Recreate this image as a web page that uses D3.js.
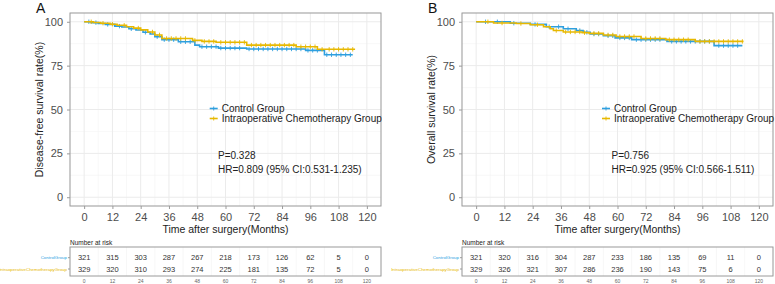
<!DOCTYPE html>
<html>
<head>
<meta charset="utf-8">
<script src="https://cdn.jsdelivr.net/npm/d3@7"></script>
<style>
  body { margin: 0; background: #fff; }
  svg { font-family: "Liberation Sans", Arial, sans-serif; display: block; }
</style>
</head>
<body>
<svg id="chart" width="775" height="284"></svg>
<script>
// ---- data ----
const groups = ["Control Group", "Intraoperative Chemotherapy Group"];
const tableLabels = ["ControlGroup", "IntraoperativeChemotherapyGroup"];
const xTicks = [0, 12, 24, 36, 48, 60, 72, 84, 96, 108, 120];
const yTicks = [0, 25, 50, 75, 100];

// panel A: disease-free survival
const dfsCtrlTime = [0, 3, 6, 9, 13, 16, 19, 22, 25, 28, 30, 33, 40, 47, 49, 57, 69, 94, 102];
const dfsCtrlSurv = [100, 99.5, 99, 98.5, 97.5, 97, 96, 95.3, 94, 93, 91.5, 89.8, 88.6, 86.7, 85.8, 85, 84.5, 83.7, 81.2];
const dfsCtrlEnd = 114;
const dfsCtrlCens = [2, 5, 10, 15, 20, 26, 31, 34, 36, 38, 41, 43, 45, 50, 52, 54, 56, 58, 60, 62, 64, 66, 70, 72, 74, 76, 78, 80, 82, 84, 86, 88, 90, 92, 95, 97, 99, 103, 105, 107, 109, 111, 113];
const dfsIcTime = [0, 4, 7, 11, 14, 18, 21, 24, 27, 30, 33, 46, 50, 56, 69, 90, 99];
const dfsIcSurv = [100, 99.6, 99.2, 98.6, 98, 97.2, 96.4, 95.4, 94.2, 92.5, 90.5, 89.4, 88.8, 88.3, 86.7, 85.8, 84.3];
const dfsIcEnd = 115;
const dfsIcCens = [3, 8, 12, 17, 23, 29, 32, 35, 37, 39, 41, 43, 47, 51, 53, 55, 58, 60, 62, 64, 66, 68, 71, 73, 75, 77, 79, 81, 83, 85, 87, 89, 92, 94, 96, 98, 101, 104, 106, 108, 110, 112, 114];
const dfsRiskCtrl = [321, 315, 303, 287, 267, 218, 173, 126, 62, 5, 0];
const dfsRiskIc = [329, 320, 310, 293, 274, 225, 181, 135, 72, 5, 0];

// panel B: overall survival
const osCtrlTime = [0, 14.5, 23, 29.8, 37, 42.5, 45.4, 48.4, 54, 59, 66, 81, 101];
const osCtrlSurv = [100, 99.2, 98.5, 97.2, 96, 95, 94, 93, 92, 90.8, 89.8, 88.8, 86.4];
const osCtrlEnd = 113;
const osCtrlCens = [4, 9, 16, 25, 31, 35, 39, 44, 47, 50, 52, 56, 58, 61, 63, 65, 68, 70, 72, 74, 76, 78, 83, 85, 87, 89, 91, 93, 95, 97, 99, 103, 105, 107, 109, 111];
const osIcTime = [0, 7.4, 17, 23, 28.6, 31.4, 32.8, 37, 45, 48, 54, 59.4, 70, 80.5, 93];
const osIcSurv = [100, 99.3, 99, 98.3, 97.2, 96, 95, 94.2, 93.8, 93.4, 92.5, 91.6, 90.5, 89.8, 88.8];
const osIcEnd = 113.5;
const osIcCens = [5, 11, 19, 26, 34, 38, 40, 42, 44, 46, 50, 52, 56, 58, 61, 63, 65, 67, 72, 74, 76, 78, 82, 84, 86, 88, 90, 95, 97, 99, 101, 103, 105, 107, 109, 111, 113];
const osRiskCtrl = [321, 320, 316, 304, 287, 233, 186, 135, 69, 11, 0];
const osRiskIc = [329, 326, 321, 307, 286, 236, 190, 143, 75, 6, 0];

const colors = ["#2E9FDF", "#E7B800"];

const svg = d3.select("#chart");

function stepValue(times, surv, t) {
  let v = surv[0];
  for (let i = 0; i < times.length; i++) {
    if (times[i] <= t) v = surv[i];
  }
  return v;
}

function drawPanel(p) {
  const x = d3.scaleLinear().domain([-6, 126]).range([p.left, p.left + 311]);
  const y = d3.scaleLinear().domain([-5, 105]).range([206, 13]);
  const g = svg.append("g");

  // grid
  const minorX = d3.range(-6, 127, 12);
  const minorY = [-5, 12.5, 37.5, 62.5, 87.5, 105];
  g.selectAll(".mx").data(minorX).join("line")
    .attr("x1", d => x(d)).attr("x2", d => x(d))
    .attr("y1", y(-5)).attr("y2", y(105))
    .attr("stroke", "#f4f4f4").attr("stroke-width", 0.6);
  g.selectAll(".my").data(minorY).join("line")
    .attr("x1", x(-6)).attr("x2", x(126))
    .attr("y1", d => y(d)).attr("y2", d => y(d))
    .attr("stroke", "#f4f4f4").attr("stroke-width", 0.6);
  g.selectAll(".gx").data(xTicks).join("line")
    .attr("x1", d => x(d)).attr("x2", d => x(d))
    .attr("y1", y(-5)).attr("y2", y(105))
    .attr("stroke", "#ebebeb").attr("stroke-width", 1);
  g.selectAll(".gy").data(yTicks).join("line")
    .attr("x1", x(-6)).attr("x2", x(126))
    .attr("y1", d => y(d)).attr("y2", d => y(d))
    .attr("stroke", "#ebebeb").attr("stroke-width", 1);

  // curves
  p.series.forEach((s, i) => {
    const pts = s.time.map((t, k) => [t, s.surv[k]]);
    pts.push([s.end, s.surv[s.surv.length - 1]]);
    const line = d3.line().x(d => x(d[0])).y(d => y(d[1])).curve(d3.curveStepAfter);
    g.append("path").attr("d", line(pts))
      .attr("fill", "none").attr("stroke", colors[i]).attr("stroke-width", 1.6);
    g.selectAll(null).data(s.cens).join("line")
      .attr("x1", d => x(d)).attr("x2", d => x(d))
      .attr("y1", d => y(stepValue(s.time, s.surv, d)) - 2.2)
      .attr("y2", d => y(stepValue(s.time, s.surv, d)) + 2.2)
      .attr("stroke", colors[i]).attr("stroke-width", 0.9);
  });

  // border
  g.append("rect").attr("x", x(-6)).attr("y", y(105))
    .attr("width", x(126) - x(-6)).attr("height", y(-5) - y(105))
    .attr("fill", "none").attr("stroke", "#9a9a9a").attr("stroke-width", 1);

  // axes
  const ax = g.append("g").attr("transform", `translate(0,${y(-5)})`)
    .call(d3.axisBottom(x).tickValues(xTicks).tickSize(3).tickPadding(4));
  const ay = g.append("g").attr("transform", `translate(${x(-6)},0)`)
    .call(d3.axisLeft(y).tickValues(yTicks).tickSize(3).tickPadding(4));
  [ax, ay].forEach(a => {
    a.select(".domain").remove();
    a.selectAll("line").attr("stroke", "#9a9a9a");
    a.selectAll("text").attr("fill", "#4d4d4d").style("font-size", "11px")
      .style("font-family", "'Liberation Sans', Arial, sans-serif");
  });

  g.append("text").attr("x", (x(-6) + x(126)) / 2).attr("y", 233)
    .attr("text-anchor", "middle").attr("font-size", 10.5).attr("fill", "#222")
    .text("Time after surgery(Months)");
  g.append("text")
    .attr("transform", `translate(${p.left - 27},${(y(-5) + y(105)) / 2}) rotate(-90)`)
    .attr("text-anchor", "middle").attr("font-size", 10.5).attr("fill", "#222")
    .text(p.ytitle);
  g.append("text").attr("x", p.left - 34).attr("y", 13)
    .attr("font-size", 14).attr("fill", "#111").text(p.letter);

  // legend
  groups.forEach((name, i) => {
    const ly = 112 + i * 10;
    g.append("line").attr("x1", p.legX - 12).attr("x2", p.legX - 4)
      .attr("y1", ly - 3.5).attr("y2", ly - 3.5)
      .attr("stroke", colors[i]).attr("stroke-width", 1.6);
    g.append("line").attr("x1", p.legX - 8).attr("x2", p.legX - 8)
      .attr("y1", ly - 5.5).attr("y2", ly - 1.5)
      .attr("stroke", colors[i]).attr("stroke-width", 0.9);
    g.append("text").attr("x", p.legX).attr("y", ly)
      .attr("font-size", 10).attr("fill", "#222").text(name);
  });

  // p / hr
  g.append("text").attr("x", p.pX).attr("y", 159)
    .attr("font-size", 10).attr("fill", "#222").text(p.pval);
  g.append("text").attr("x", p.pX).attr("y", 173)
    .attr("font-size", 10).attr("fill", "#222").text(p.hr);

  // risk table
  const ty = d3.scalePoint().domain([0, 1]).range([257.7, 269]);
  g.append("text").attr("x", x(-6)).attr("y", 245)
    .attr("font-size", 6.5).attr("fill", "#222").text("Number at risk");
  g.selectAll(".tgx").data(minorX).join("line")
    .attr("x1", d => x(d)).attr("x2", d => x(d))
    .attr("y1", 247).attr("y2", 276)
    .attr("stroke", "#f2f2f2").attr("stroke-width", 0.6);
  g.append("rect").attr("x", x(-6)).attr("y", 247)
    .attr("width", x(126) - x(-6)).attr("height", 29)
    .attr("fill", "none").attr("stroke", "#9a9a9a").attr("stroke-width", 1);
  p.risk.forEach((row, i) => {
    g.selectAll(null).data(row).join("text")
      .attr("x", (d, k) => x(xTicks[k])).attr("y", ty(i) + 2.6)
      .attr("text-anchor", "middle").attr("font-size", 7.5).attr("fill", "#333")
      .text(d => d);
    g.append("text").attr("x", x(-6) - 3).attr("y", ty(i) + 1.6)
      .attr("text-anchor", "end").attr("font-size", 4.4).attr("fill", colors[i])
      .text(tableLabels[i]);
    g.append("line").attr("x1", x(-6) - 2).attr("x2", x(-6))
      .attr("y1", ty(i)).attr("y2", ty(i)).attr("stroke", "#9a9a9a");
  });
  g.selectAll(".tt").data(xTicks).join("text")
    .attr("x", d => x(d)).attr("y", 282.5)
    .attr("text-anchor", "middle").attr("font-size", 5).attr("fill", "#666")
    .text(d => d);
}

drawPanel({
  left: 70, letter: "A", ytitle: "Disease-free survival rate(%)",
  legX: 221.7, pX: 218, pval: "P=0.328", hr: "HR=0.809 (95% CI:0.531-1.235)",
  series: [
    { time: dfsCtrlTime, surv: dfsCtrlSurv, end: dfsCtrlEnd, cens: dfsCtrlCens },
    { time: dfsIcTime, surv: dfsIcSurv, end: dfsIcEnd, cens: dfsIcCens }
  ],
  risk: [dfsRiskCtrl, dfsRiskIc]
});
drawPanel({
  left: 462, letter: "B", ytitle: "Overall survival rate(%)",
  legX: 614, pX: 611.5, pval: "P=0.756", hr: "HR=0.925 (95% CI:0.566-1.511)",
  series: [
    { time: osCtrlTime, surv: osCtrlSurv, end: osCtrlEnd, cens: osCtrlCens },
    { time: osIcTime, surv: osIcSurv, end: osIcEnd, cens: osIcCens }
  ],
  risk: [osRiskCtrl, osRiskIc]
});
</script>
</body>
</html>
